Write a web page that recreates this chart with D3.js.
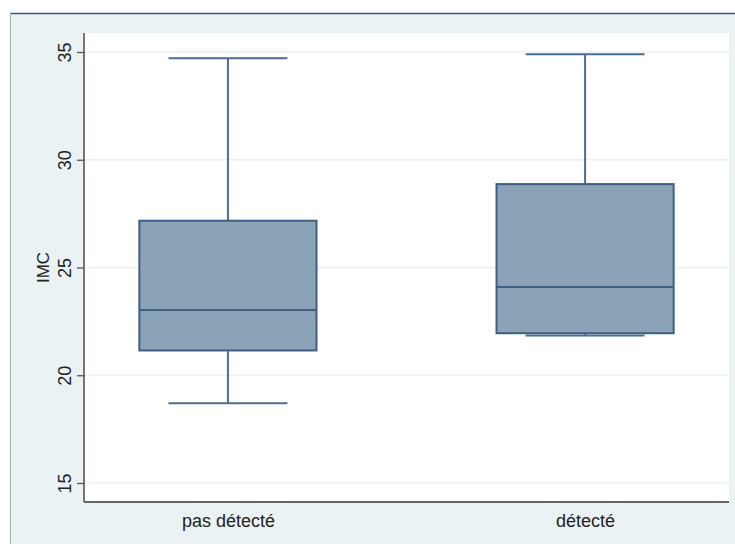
<!DOCTYPE html>
<html>
<head>
<meta charset="utf-8">
<script src="https://cdn.jsdelivr.net/npm/d3@7"></script>
<style>
  html, body { margin: 0; padding: 0; background: #ffffff; }
  svg { display: block; }
  text { font-family: "Liberation Sans", Arial, sans-serif; fill: #222; }
</style>
</head>
<body>
<svg id="chart" width="735" height="544"></svg>
<script>
// Box-plot summaries of IMC by detection status
const categories = ["pas détecté", "détecté"];
const lowerWhisker = [18.7, 21.84];
const q1 = [21.15, 21.95];
const median = [23.03, 24.1];
const q3 = [27.17, 28.87];
const upperWhisker = [34.71, 34.9];
const yTicks = [15, 20, 25, 30, 35];
const yTitle = "IMC";

const svg = d3.select("#chart");
const W = 735, H = 544;

// graph region
const region = { left: 10, top: 13 };
const plot = { left: 84, right: 729, top: 33, bottom: 502 };

svg.append("rect").attr("x", 0).attr("y", 0).attr("width", W).attr("height", H).attr("fill", "#ffffff");
svg.append("rect")
  .attr("x", region.left).attr("y", region.top)
  .attr("width", W - region.left).attr("height", H - region.top)
  .attr("fill", "#eaf2f3");
svg.append("line")
  .attr("x1", region.left).attr("x2", W).attr("y1", region.top + 0.5).attr("y2", region.top + 0.5)
  .attr("stroke", "#2d5c8a").attr("stroke-width", 1.5);
svg.append("line")
  .attr("x1", region.left + 0.5).attr("x2", region.left + 0.5).attr("y1", region.top).attr("y2", H)
  .attr("stroke", "#a9b0b5").attr("stroke-width", 1);

// plot area
svg.append("rect")
  .attr("x", plot.left).attr("y", plot.top)
  .attr("width", plot.right - plot.left).attr("height", plot.bottom - plot.top)
  .attr("fill", "#ffffff");

const y = d3.scaleLinear().domain([15, 35]).range([483, 52]);
const x = d3.scalePoint().domain(categories).range([plot.left, plot.right]).padding(0.403);
const step = x.step();
const boxW = step * 0.496;
const capW = step * 0.333;

// gridlines
svg.append("g").selectAll("line").data(yTicks).join("line")
  .attr("x1", plot.left).attr("x2", plot.right)
  .attr("y1", d => y(d)).attr("y2", d => y(d))
  .attr("stroke", "#eaf2f3").attr("stroke-width", 1.5);

// y axis
const yAxis = d3.axisLeft(y).tickValues(yTicks).tickSize(7).tickPadding(6).tickFormat(d3.format("d"));
const gy = svg.append("g").attr("transform", `translate(${plot.left},0)`).call(yAxis);
gy.select(".domain").remove();
gy.selectAll(".tick line").attr("stroke", "#555").attr("stroke-width", 1.3);
gy.selectAll(".tick text")
  .attr("x", 0).attr("dy", null)
  .attr("transform", "translate(-13.5,0) rotate(-90)")
  .attr("text-anchor", "middle")
  .attr("font-size", 18)
  .style("font-family", '"Liberation Sans", Arial, sans-serif')
  .attr("fill", "#222");

svg.append("line")
  .attr("x1", plot.left).attr("x2", plot.left).attr("y1", plot.top).attr("y2", plot.bottom)
  .attr("stroke", "#555").attr("stroke-width", 1.6);

// x axis
const gx = svg.append("g").attr("transform", `translate(0,${plot.bottom})`)
  .call(d3.axisBottom(x).tickSize(0).tickPadding(0));
gx.select(".domain").remove();
gx.selectAll(".tick text")
  .attr("y", 25).attr("dy", null)
  .attr("font-size", 18)
  .style("font-family", '"Liberation Sans", Arial, sans-serif')
  .attr("fill", "#222");
svg.append("line")
  .attr("x1", plot.left).attr("x2", plot.right).attr("y1", plot.bottom).attr("y2", plot.bottom)
  .attr("stroke", "#666").attr("stroke-width", 2);

// y title
svg.append("text")
  .attr("transform", `translate(48.5,${y(25)}) rotate(-90)`)
  .attr("text-anchor", "middle")
  .attr("font-size", 17)
  .text(yTitle);

// boxes
const stroke = "#3b6087";
const data = categories.map((c, i) => ({
  c, lw: lowerWhisker[i], q1: q1[i], med: median[i], q3: q3[i], uw: upperWhisker[i]
}));

const g = svg.append("g");
const box = g.selectAll("g.box").data(data).join("g").attr("class", "box");

// whiskers
box.append("line")
  .attr("x1", d => x(d.c)).attr("x2", d => x(d.c))
  .attr("y1", d => y(d.q3)).attr("y2", d => y(d.uw))
  .attr("stroke", "#4b6d92").attr("stroke-width", 2);
box.append("line")
  .attr("x1", d => x(d.c)).attr("x2", d => x(d.c))
  .attr("y1", d => y(d.q1)).attr("y2", d => y(d.lw))
  .attr("stroke", "#4b6d92").attr("stroke-width", 2);
// caps
box.append("line")
  .attr("x1", d => x(d.c) - capW / 2).attr("x2", d => x(d.c) + capW / 2)
  .attr("y1", d => y(d.uw)).attr("y2", d => y(d.uw))
  .attr("stroke", "#4b6d92").attr("stroke-width", 2);
box.append("line")
  .attr("x1", d => x(d.c) - capW / 2).attr("x2", d => x(d.c) + capW / 2)
  .attr("y1", d => y(d.lw)).attr("y2", d => y(d.lw))
  .attr("stroke", "#4b6d92").attr("stroke-width", 2);
// box body
box.append("rect")
  .attr("x", d => x(d.c) - boxW / 2).attr("width", boxW)
  .attr("y", d => y(d.q3)).attr("height", d => y(d.q1) - y(d.q3))
  .attr("fill", "#8ba2b7").attr("stroke", stroke).attr("stroke-width", 2);
// median
box.append("line")
  .attr("x1", d => x(d.c) - boxW / 2).attr("x2", d => x(d.c) + boxW / 2)
  .attr("y1", d => y(d.med)).attr("y2", d => y(d.med))
  .attr("stroke", stroke).attr("stroke-width", 2);
</script>
</body>
</html>
